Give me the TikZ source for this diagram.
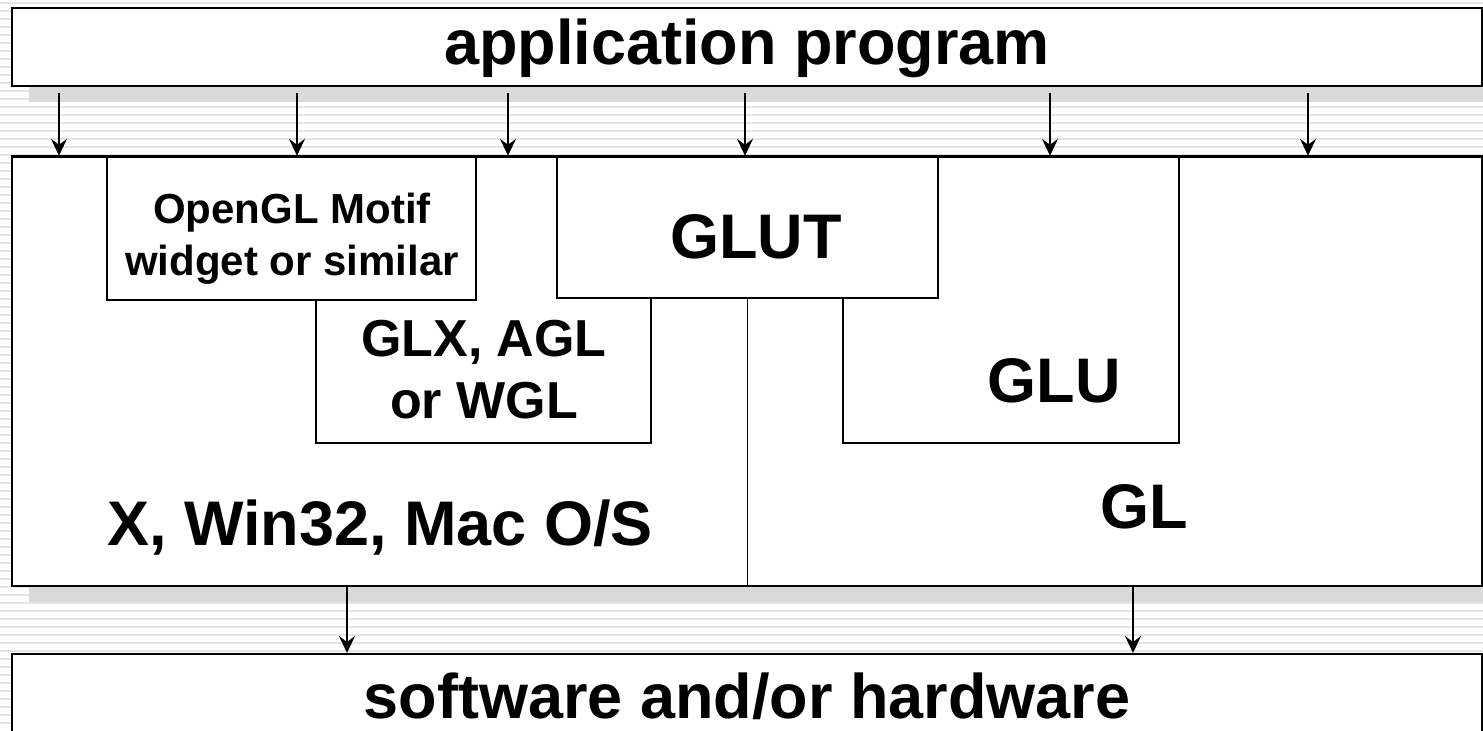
\documentclass[tikz,border=0pt]{standalone}
\usepackage{fontspec}
\setmainfont{Liberation Sans}
\usetikzlibrary{arrows.meta,shadows}

\tikzset{
	layer/.style={draw, line width=1.2pt, fill=white, inner sep=0pt,
		general shadow={fill=black!15, shadow xshift=8.5pt, shadow yshift=-8pt}},
	part/.style={draw, line width=0.8pt, fill=white, inner sep=0pt},
	edgeline/.style={line width=0.8pt},
	stripe/.style={line width=1pt, black!10},
	flow/.style={line width=0.85pt, -{Stealth[length=8.5pt, width=8pt, inset=3pt]}},
	bigtext/.style={font=\fontsize{31.5}{36}\selectfont\bfseries, anchor=base},
	midtext/.style={font=\fontsize{26}{31}\selectfont\bfseries, anchor=base, align=center},
	smalltext/.style={font=\fontsize{21}{26}\selectfont\bfseries, anchor=base, align=center}
}

\begin{document}
\begin{tikzpicture}[x=0.5pt, y=-0.5pt]
	\useasboundingbox (0,0) rectangle (1483,730);
	\clip (0,0) rectangle (1483,730);
	\fill[white] (0,0) rectangle (1483,730);
	\foreach \s in {3,11,...,730}
		\draw[stripe] (0,\s) -- (1483,\s);

	% layers
	\node[layer, minimum width=735pt, minimum height=39pt] (app) at (747,47) {};
	\node[layer, minimum width=735pt, minimum height=214.5pt] (sys) at (747,371.5) {};
	\node[layer, minimum width=735pt, minimum height=60pt, anchor=north] (hw) at (747,653) {};

	\node[part, minimum width=184.5pt, minimum height=71.5pt] (motif) at (291.5,228.5) {};
	\node[part, minimum width=190.5pt, minimum height=70.5pt] (glut) at (747.5,227.5) {};
	\draw[edgeline] (316,300) |- (651,443) -- (651,298);
	\draw[edgeline] (843,298) |- (1179,443) -- (1179,157);
	\draw[edgeline] (glut.south) -- (glut.south |- sys.south);
	\draw[line width=1.2pt] (sys.north west) -- (sys.north east);

	% labels
	\node[bigtext] (applabel) at (747,64) {application program};
	\node[smalltext] (motiflabel) at (292,275) {OpenGL Motif\\widget or similar};
	\node[bigtext] (glutlabel) at (756,258) {GLUT};
	\node[midtext] (glxlabel) at (484,418) {GLX, AGL\\or WGL};
	\node[bigtext] (glulabel) at (1054,402) {GLU};
	\node[bigtext] (oslabel) at (380,545) {X, Win32, Mac O/S};
	\node[bigtext] (gllabel) at (1144,528) {GL};
	\node[bigtext] (hwlabel) at (747,718) {software and/or hardware};

	% calls
	\foreach \x in {59,297,508,745,1050,1308}
		\draw[flow, shorten <=3pt] ([shift={(\x-747,0)}]app.south) -- ([shift={(\x-747,0)}]sys.north);
	\foreach \x in {347,1133}
		\draw[flow] ([shift={(\x-747,0)}]sys.south) -- ([shift={(\x-747,0)}]hw.north);
\end{tikzpicture}
\end{document}
